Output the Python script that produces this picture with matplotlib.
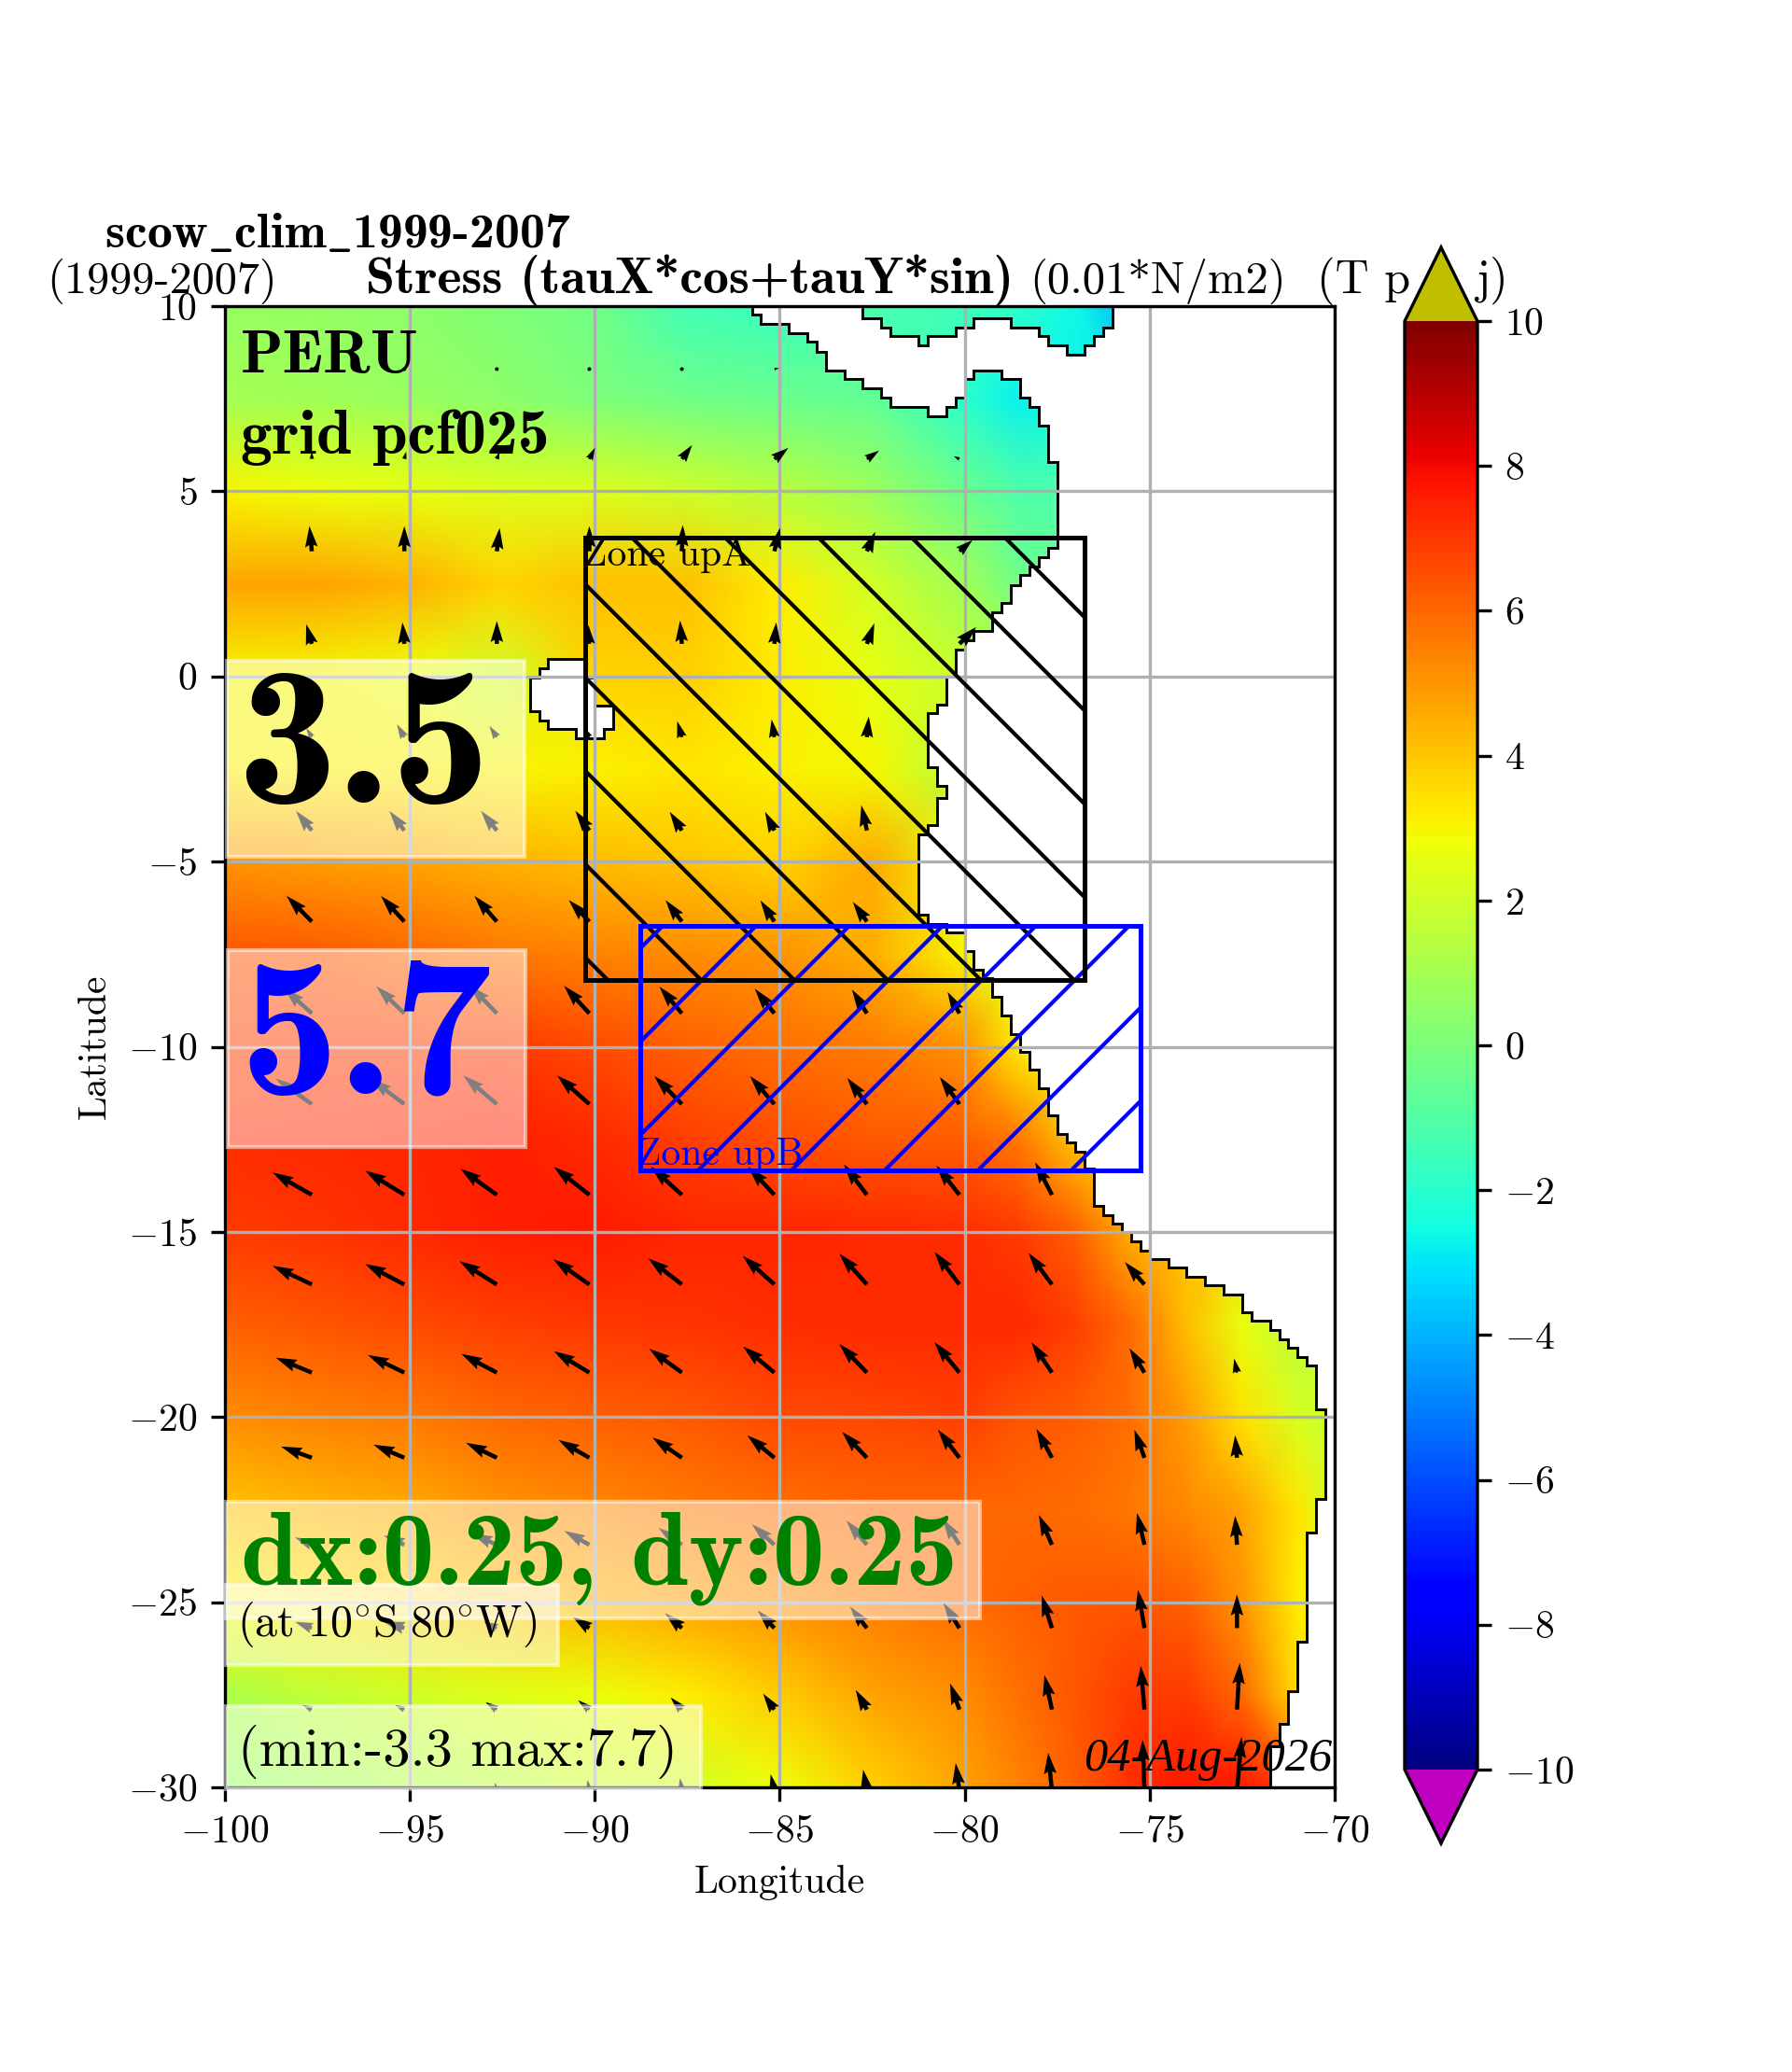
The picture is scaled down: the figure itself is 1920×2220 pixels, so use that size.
import numpy as np
import matplotlib
matplotlib.use("Agg")
import matplotlib.pyplot as plt
from matplotlib.patches import Rectangle, Polygon

nan = np.nan

# field nodes (0.01 N/m2)
field_lon = [-100, -97.5, -95, -92.5, -90, -87.5, -85, -82.5, -80, -78.5, -77, -75.5, -74, -72.5, -71, -70]
field_lat = [10, 7.5, 5, 2.5, 0, -2.5, -5, -7.5, -10, -12.5, -15, -17.5, -20, -22.5, -25, -27.5, -30]
field = [
    [0.7, 0.6, 0.4, 0.1, -0.3, -1.4, -1.6, -1.2, -1.5, -1.9, -2.6, -4.0, -4.0, -4.0, -4.0, -4.0],
    [1.0, 0.9, 0.7, 0.4, 0.0, -0.3, -0.4, -0.6, -2.0, -2.8, -2.6, -2.4, -2.4, -2.4, -2.4, -2.4],
    [3.0, 2.8, 2.6, 2.4, 2.3, 2.0, 1.5, 0.8, -0.4, -1.1, -1.1, -1.1, -1.1, -1.1, -1.1, -1.1],
    [4.7, 4.7, 4.4, 3.7, 4.1, 4.1, 3.2, 2.1, 0.9, -0.3, -0.6, -0.6, -0.6, -0.6, -0.6, -0.6],
    [3.0, 2.9, 2.8, 2.1, 3.7, 3.8, 3.2, 2.6, 1.8, 1.2, 1.2, 1.2, 1.2, 1.2, 1.2, 1.2],
    [3.1, 3.1, 3.1, 3.0, 3.1, 3.3, 3.1, 2.9, 1.4, 1.2, 1.2, 1.2, 1.2, 1.2, 1.2, 1.2],
    [5.0, 4.9, 4.7, 4.4, 4.2, 4.0, 3.7, 4.6, 2.8, 2.0, 2.0, 2.0, 2.0, 2.0, 2.0, 2.0],
    [6.4, 6.3, 6.0, 5.7, 5.4, 5.2, 5.0, 4.5, 3.0, 2.0, 2.0, 2.0, 2.0, 2.0, 2.0, 2.0],
    [6.8, 7.0, 7.0, 7.0, 6.6, 6.1, 5.8, 5.6, 5.1, 3.2, 2.5, 2.5, 2.5, 2.5, 2.5, 2.5],
    [7.2, 7.3, 7.4, 7.5, 7.3, 6.8, 6.5, 6.3, 6.2, 5.6, 4.0, 3.0, 3.0, 3.0, 3.0, 3.0],
    [6.9, 7.1, 7.3, 7.5, 7.6, 7.4, 7.4, 7.3, 7.2, 6.9, 6.1, 4.5, 4.0, 4.0, 4.0, 4.0],
    [6.1, 6.4, 6.6, 6.8, 7.0, 7.1, 7.2, 7.3, 7.3, 7.3, 6.8, 5.9, 4.2, 2.6, 1.5, 1.5],
    [5.2, 5.4, 5.6, 6.0, 6.1, 6.3, 6.6, 6.7, 6.8, 6.4, 6.2, 5.8, 4.9, 3.4, 2.2, 1.8],
    [4.0, 4.3, 4.6, 5.0, 5.3, 5.6, 5.8, 6.0, 6.0, 6.0, 5.9, 5.7, 5.3, 4.7, 3.3, 2.0],
    [3.0, 3.3, 3.6, 4.0, 4.3, 4.7, 5.1, 5.5, 5.9, 6.1, 6.3, 6.4, 6.1, 5.0, 3.2, 3.0],
    [1.2, 1.7, 2.1, 2.4, 2.7, 3.2, 3.9, 4.7, 5.2, 5.8, 6.4, 6.9, 6.9, 6.0, 3.5, 3.0],
    [0.7, 1.0, 1.3, 1.6, 2.0, 2.1, 2.8, 3.8, 4.7, 5.4, 6.2, 7.2, 7.7, 7.6, 7.0, 7.0],
]

# wind stress arrows, one value per grid row / column
arrow_lon = [-100.07, -97.64, -95.14, -92.64, -90.14, -87.64, -85.14, -82.64, -80.14, -77.64, -75.14, -72.64]
arrow_lat = [8.3, 5.87, 3.38, 0.88, -1.64, -4.16, -6.62, -9.1, -11.55, -14, -16.42, -18.8, -21.1, -23.45, -25.7, -27.9, -30.1]
arrow_u = [
    [0, 0, 0, 0, 0.5, -2, 5, nan, nan, nan, nan, nan],
    [0, 0, 2, 3, 6, 11, 15, 13, -6, nan, nan, nan],
    [0, -2.5, 0, 3, 0, 1, 6, 9, 14, nan, nan, nan],
    [0, -6, -2, 0, -1, -2, 2, 8, 18, nan, nan, nan],
    [-6, -6, -8, -8, -5, -5, -3, 2, nan, nan, nan, nan],
    [-15, -17, -16, -17, -15, -13, -10, -6, nan, nan, nan, nan],
    [-27, -27, -25, -24, -22, -17.5, -15, -15, nan, nan, nan, nan],
    [-30, -30, -30, -29, -27, -24, -21, -16, -12.6, nan, nan, nan],
    [-36, -38.6, -36, -35.8, -34.4, -29.5, -26, -21, -21, nan, nan, nan],
    [-42, -42, -42, -39, -38, -33, -28, -24.6, -24.6, -18, nan, nan],
    [-42, -42, -42, -40, -38.6, -36, -34, -29.5, -26.7, -25, -21, nan],
    [-38.6, -38.6, -39, -38, -38, -35, -33.7, -29.5, -26.7, -21.8, -16, -3],
    [-33, -33, -33, -33, -33, -31.5, -29, -26.5, -23, -16.6, -10.8, -2],
    [-18, -18, -22, -27, -27, -25, -24, -22, -18, -14, -8, -2],
    [-18, -18, -22, -14, -18, -18, -18, -18, -17, -11, -7, 0],
    [-10, -10, -10, -12, -12, -12, -12, -12, -10, -8, -4, 3],
    [-2, -2, -2, -2, -2, -2, -4, -4, -4, -4, -2, 5],
]
arrow_v = [
    [0.5, 0.5, 0.5, 0.5, 2, 1.5, 1, nan, nan, nan, nan, nan],
    [3, 8, 8, 8, 12, 15, 12, 9, 3, nan, nan, nan],
    [12, 27, 27, 25, 27, 28, 25, 21, 12, nan, nan, nan],
    [8, 21, 23, 24.5, 20, 25, 23, 22, 18, nan, nan, nan],
    [8, 10, 14, 12, 10, 17, 19, 22, nan, nan, nan, nan],
    [18, 21, 21, 21, 21, 20, 20, 27, nan, nan, nan, nan],
    [27, 27.5, 27.5, 27.5, 23, 23, 22.6, 21, nan, nan, nan, nan],
    [27, 27, 29, 30, 29.5, 28.7, 26.4, 25.6, 23, nan, nan, nan],
    [28, 27.5, 27, 30.6, 30.6, 30, 30, 28, 29, nan, nan, nan],
    [24, 24, 26, 28, 30, 30, 30, 32.5, 31.4, 35, nan, nan],
    [20, 20, 22, 25, 27, 28, 30.6, 33, 35, 33.7, 24, nan],
    [16, 16, 18.8, 20, 23, 25.6, 28, 30.6, 32.5, 32.5, 26, 15],
    [12, 12, 14, 16, 19, 21.7, 24, 27.7, 30, 31, 30, 24],
    [8, 8, 10, 12, 15, 18, 22, 26, 28, 32, 34, 31],
    [6.7, 6.7, 6.7, 6.7, 12, 16, 19, 23, 27, 35, 41, 36],
    [5, 5, 5, 8, 10, 13, 17, 21, 28, 37, 47, 50],
    [5, 5, 5, 9, 12, 14, 18, 23, 30, 41, 55, 58],
]

# coast staircase: at each lon go down/up to lat, then across to the next lon
coast_lon = [-85.75, -85.5, -84.75, -84.25, -84, -83.75, -83.25, -82.75, -82.25, -82, -81, -80.5, -80.25, -80, -79.75,
             -79, -78.5, -78.25, -78, -77.75, -77.5, -77.75, -78, -78.25, -78.5, -78.75, -79, -79.25, -79.75, -80,
             -80.25, -80.5, -80.75, -81, -80.75, -80.5, -80.75, -81, -81.25, -81, -80.5, -80, -79.75, -79.5, -79.25,
             -79, -78.75, -78.5, -78.25, -78, -77.75, -77.5, -77.25, -77, -76.75, -76.5, -76.25, -76, -75.75, -75.5,
             -75.25, -75, -74.5, -74, -73.5, -73, -72.5, -72.25, -71.75, -71.5, -71.25, -71, -70.75, -70.5, -70.25,
             -70.5, -70.75, -71, -71.25, -71.5, -71.75]
coast_lat = [9.765, 9.51, 9.28, 9.03, 8.77, 8.27, 8.03, 7.78, 7.53, 7.29, 7.03, 7.29, 7.53, 8.03, 8.27,
             8.03, 7.53, 7.29, 6.78, 5.80, 3.48, 3.23, 2.98, 2.73, 2.47, 1.99, 1.73, 1.23, 0.98, 0.73,
             0.0, -0.76, -1.0, -2.44, -2.95, -3.28, -4.01, -4.26, -6.43, -6.68, -6.92, -7.42, -7.93, -8.16, -8.66,
             -9.16, -9.65, -10.14, -10.63, -11.12, -11.86, -12.35, -12.58, -12.83, -13.30, -14.29, -14.54, -14.77, -15.0, -15.25,
             -15.5, -15.73, -15.97, -16.21, -16.45, -16.69, -17.17, -17.41, -17.66, -17.89, -18.13, -18.37, -18.61, -19.79, -22.2,
             -23.11, -26.07, -27.41, -28.29, -28.90, -30]
carib_lon = [-76, -76.25, -76.5, -76.75, -77.25, -77.75, -78, -78.75, -79.75, -80.25, -81, -81.25, -82, -82.25, -82.75]
carib_lat = [9.43, 9.19, 8.94, 8.69, 8.94, 9.19, 9.43, 9.68, 9.43, 9.19, 8.94, 9.19, 9.43, 9.68, 10]
island_lon = [-91.25, -90.25, -90.25, -90, -90, -89.5, -89.5, -89.75, -89.75, -90.5, -90.5, -91.25, -91.25, -91.5, -91.5, -91.75, -91.75, -91.5, -91.5, -91.25]
island_lat = [0.48, 0.48, -0.03, -0.03, -0.78, -0.78, -1.43, -1.43, -1.68, -1.68, -1.43, -1.43, -1.18, -1.18, -0.93, -0.93, -0.03, -0.03, 0.23, 0.23]

# zones: lon min, lon max, lat min, lat max
zone_a = [-90.25, -76.75, -8.2, 3.75]
zone_b = [-88.77, -75.25, -13.35, -6.73]

xticks = [-100, -95, -90, -85, -80, -75, -70]
yticks = [10, 5, 0, -5, -10, -15, -20, -25, -30]
cticks = [-10, -8, -6, -4, -2, 0, 2, 4, 6, 8, 10]

plt.rcParams["font.family"] = ["cmr10", "DejaVu Serif"]
plt.rcParams["mathtext.fontset"] = "cm"
plt.rcParams["axes.unicode_minus"] = False
BOLD = ["cmb10", "DejaVu Serif"]

W, H = 1920, 2220


def fx(px):
    return px / W


def fy(py):
    return 1 - py / H


def stairs(lons, lats, start_lat):
    # vertical at lon down to lat, then the next vertical starts at the same lat
    pts = []
    prev = start_lat
    for lo, la in zip(lons, lats):
        pts.append((lo, prev))
        pts.append((lo, la))
        prev = la
    return pts


fig = plt.figure(figsize=(6.4, 7.4), dpi=300)
ax = fig.add_axes([fx(240.5), fy(1915), fx(1430) - fx(240.5), fy(328) - fy(1915)])

cmap = plt.get_cmap("jet").copy()
cmap.set_over("#bfbf00")
cmap.set_under("#bf00bf")

mesh = ax.pcolormesh(field_lon, field_lat, np.array(field), cmap=cmap, vmin=-10, vmax=10,
                     shading="gouraud", zorder=0.5)

# land is painted over the field
land = stairs(coast_lon, coast_lat, 10) + [(-70, -30), (-70, 10)] + stairs(carib_lon, carib_lat, 10)
ax.add_patch(Polygon(land, closed=True, fc="white", ec="black", lw=0.7, zorder=1))
ax.add_patch(Polygon(list(zip(island_lon, island_lat)), closed=True, fc="white", ec="black", lw=0.7, zorder=1))

ax.set_xlim(-100, -70)
ax.set_ylim(-30, 10)
ax.set_xticks(xticks, labels=[f"${v}$" for v in xticks])
ax.set_yticks(yticks, labels=[f"${v}$" for v in yticks])
ax.tick_params(labelsize=10)
ax.grid(True, color="#b0b0b0", lw=0.8)
ax.set_axisbelow("line")
ax.set_xlabel("Longitude", fontsize=10)
ax.set_ylabel("Latitude", fontsize=10)

X, Y = np.meshgrid(arrow_lon, arrow_lat)
ax.quiver(X, Y, np.ma.masked_invalid(arrow_u), np.ma.masked_invalid(arrow_v), units="inches", width=4.5 / 300,
          scale_units="inches", scale=300, color="black", zorder=2)


def zone(box, color, sign, c0, label, label_xy):
    x0, x1, y0, y1 = box
    rect = Rectangle((x0, y0), x1 - x0, y1 - y0, fc="none", ec=color, lw=1.2, zorder=2.2)
    ax.add_patch(rect)
    # hatch drawn by hand, the spacing of the pattern is wider than agg's default
    for c in c0 + 2.52 * np.arange(-12, 13):
        xs = np.array([-100, -70])
        ln, = ax.plot(xs, sign * xs + c, color=color, lw=1.0, zorder=2.1)
        ln.set_clip_path(rect)
    ax.text(label_xy[0], label_xy[1], label, color=color, fontsize=10, zorder=2.3)


zone(zone_a, "black", -1, -75.16, "Zone upA", (-90.3, 3.0))
zone(zone_b, "blue", 1, 66.3, "Zone upB", (-88.85, -13.2))


def box(x0, x1, y0, y1):
    ax.add_patch(Rectangle((fx(x0), fy(y1)), fx(x1) - fx(x0), fy(y0) - fy(y1), transform=fig.transFigure,
                           fc=(1, 1, 1, 0.5), ec=(1, 1, 1, 0.5), lw=1.0, clip_on=False, zorder=3))


def put(px, py, s, **kw):
    kw.setdefault("zorder", 4)
    return ax.text(fx(px), fy(py), s, transform=fig.transFigure, va="baseline", clip_on=False, **kw)


box(243, 562, 708, 918)
box(243.5, 563, 1018, 1229)
box(241.5, 1050, 1609, 1734)
box(241.5, 598, 1698, 1784)
box(241.5, 751, 1828, 1917)

put(258, 399, "PERU", family=BOLD, fontsize=16)
put(258, 486, "grid pcf025", family=BOLD, fontsize=16.2)
put(254, 860, "3.5", family=BOLD, fontsize=51)
put(256, 1172, "5.7", family=BOLD, fontsize=51, color="blue")
put(258, 1697, "dx:0.25, dy:0.25", family=BOLD, fontsize=26.8, color="green")
put(254, 1753, r"$\mathrm{(at\ 10^{\circ}S\ 80^{\circ}W)}$", fontsize=11.5)
put(255, 1892, "(min:-3.3 max:7.7)", fontsize=14)
put(1427, 1897, "04-Aug-2026", family="Liberation Serif", style="italic", fontsize=12.1, ha="right")

put(112, 265, r"scow$\mathbf{\_}$clim$\mathbf{\_}$1999-2007", family=BOLD, fontsize=12.9)
put(50, 314, "(1999-2007)", fontsize=11.6)
put(392, 314, "Stress (tauX*cos+tauY*sin)", family=BOLD, fontsize=13.4)
put(1103, 314, "(0.01*N/m2)", fontsize=11.7)
put(1411, 314, "(T p", fontsize=12)
put(1581, 314, "j)", fontsize=12)

cax = fig.add_axes([fx(1505), fy(1975), fx(1583) - fx(1505), fy(265) - fy(1975)])
cb = fig.colorbar(mesh, cax=cax, extend="both", extendfrac=0.051, ticks=cticks)
cb.set_ticklabels([f"${v}$" for v in cticks])
cax.tick_params(labelsize=10)

fig.savefig("out.png", dpi=300)
